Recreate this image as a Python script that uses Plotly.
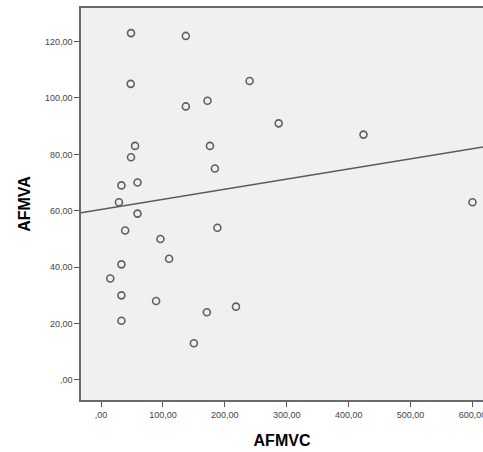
import numpy as np
import plotly.graph_objects as go

afmvc = [48.5, 137, 48, 240, 137, 172, 287, 55, 176, 48.5, 184, 33, 59, 29, 424, 600,
         59, 39, 188, 96, 110, 33, 15, 33, 89, 218, 171, 33, 150]
afmva = [123, 122, 105, 106, 97, 99, 91, 83, 83, 79, 75, 69, 70, 63, 87, 63,
         59, 53, 54, 50, 43, 41, 36, 30, 28, 26, 24, 21, 13]

x_ticks = [0, 100, 200, 300, 400, 500, 600]
x_tick_labels = [",00", "100,00", "200,00", "300,00", "400,00", "500,00", "600,00"]
y_ticks = [0, 20, 40, 60, 80, 100, 120]
y_tick_labels = [",00", "20,00", "40,00", "60,00", "80,00", "100,00", "120,00"]

x_range = [-32.3, 617]
y_range = [-7.1, 131.9]

slope, intercept = np.polyfit(afmvc, afmva, 1)
line_x = np.array(x_range)
line_y = intercept + slope * line_x

fig = go.Figure()
fig.add_trace(go.Scatter(x=line_x, y=line_y, mode="lines",
                         line=dict(color="#5a5a5a", width=1.5),
                         hoverinfo="skip", showlegend=False))
fig.add_trace(go.Scatter(x=afmvc, y=afmva, mode="markers",
                         marker=dict(symbol="circle-open", size=7,
                                     color="#606060", line=dict(width=1.6)),
                         showlegend=False))

tickfont = dict(family="Liberation Sans, Arial, sans-serif", size=9, color="#444444")
fig.update_layout(
    width=483, height=452,
    margin=dict(l=81, r=0, t=8, b=52, autoexpand=False),
    paper_bgcolor="white",
    plot_bgcolor="#f0f0f0",
    xaxis=dict(range=x_range, tickvals=x_ticks, ticktext=x_tick_labels,
               showgrid=False, zeroline=False, showline=True, mirror=True,
               linecolor="#6a6a6a", linewidth=1.5, ticks="outside", ticklen=5,
               tickcolor="#555555", tickfont=tickfont, ticklabeloverflow="allow",
               automargin=False,
               title=dict(text="<b>AFMVC</b>", standoff=16,
                          font=dict(family="Liberation Sans, Arial, sans-serif",
                                    size=16, color="black"))),
    yaxis=dict(range=y_range, tickvals=y_ticks, ticktext=y_tick_labels,
               showgrid=False, zeroline=False, showline=True,
               linecolor="#6a6a6a", linewidth=1.5, ticks="outside", ticklen=5,
               tickcolor="#555555", tickfont=tickfont, automargin=False,
               title=dict(text="<b>AFMVA</b>", standoff=10,
                          font=dict(family="Liberation Sans, Arial, sans-serif",
                                    size=16, color="black"))),
)

fig.write_html("out.html", config={"displayModeBar": False},
               post_script="document.body.style.margin='0px';document.body.style.overflow='hidden';")
